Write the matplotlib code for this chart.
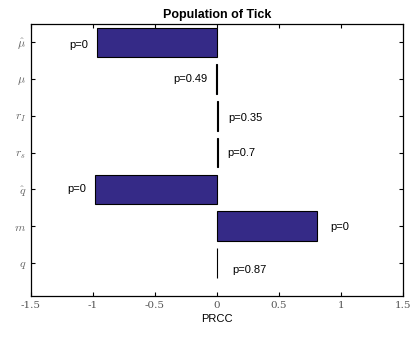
import numpy as np
import matplotlib.pyplot as plt

# PRCC sensitivity of tick population to each parameter
params = [r'$\hat{\mu}$', r'$\mu$', r'$r_I$', r'$r_s$', r'$\hat{q}$', r'$m$', r'$q$']
prcc = [-0.965, -0.01, 0.012, 0.005, -0.985, 0.81, 0.003]
pvals = ['p=0', 'p=0.49', 'p=0.35', 'p=0.7', 'p=0', 'p=0', 'p=0.87']
xticks = [-1.5, -1, -0.5, 0, 0.5, 1, 1.5]
xticklabels = ['-1.5', '-1', '-0.5', '0', '0.5', '1', '1.5']

# small nudges for the annotations
label_dx = [0.0, 0.0, 0.0, 0.0, 0.0, 0.02, 0.04]
label_dy = [0.08, 0.0, 0.05, 0.0, 0.0, 0.03, 0.2]

plt.rcParams['mathtext.fontset'] = 'cm'
plt.rcParams['font.family'] = ['Liberation Sans', 'DejaVu Sans']

fig = plt.figure(figsize=(4.12, 3.37), dpi=100)
ax = fig.add_axes([0.0752, 0.1217, 0.9028, 0.8071])

pos = np.arange(1, len(params) + 1)
ax.barh(pos, prcc, height=0.8, color='#352a87', edgecolor='black', linewidth=0.8)

for y, v, p, dx, dy in zip(pos, prcc, pvals, label_dx, label_dy):
    if v < 0:
        ax.text(v - 0.07 - dx, y + dy, p, ha='right', va='center', fontsize=8)
    else:
        ax.text(v + 0.08 + dx, y + dy, p, ha='left', va='center', fontsize=8)

ax.set_xlim(-1.5, 1.5)
ax.set_ylim(7.9, 0.5)
ax.set_yticks(pos)
ax.set_yticklabels(params, fontsize=8.5, color='#666666')
ax.set_xticks(xticks)
ax.set_xticklabels(xticklabels, family='DejaVu Serif', fontsize=7.5, color='#555555')
ax.tick_params(direction='in', top=True, right=True, length=3, width=0.8)
for s in ax.spines.values():
    s.set_linewidth(0.9)

ax.set_xlabel('PRCC', fontsize=8, labelpad=3)
ax.set_title('Population of Tick', fontsize=9, fontweight='bold', pad=4)

fig.savefig('out.png', dpi=100)
